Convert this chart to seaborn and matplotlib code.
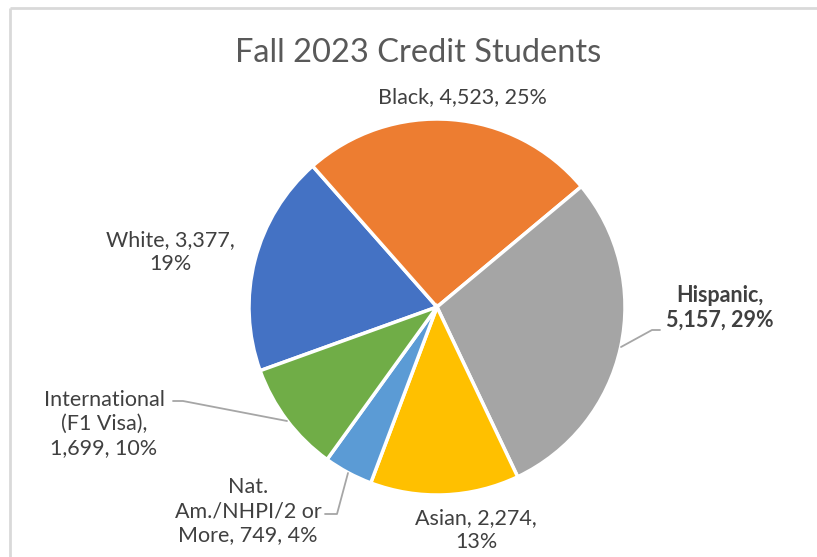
import matplotlib
matplotlib.use("Agg")
import matplotlib.pyplot as plt
import seaborn as sns

# Fall 2023 credit headcount by race/ethnicity
categories = ["White", "Black", "Hispanic", "Asian",
              "Nat. Am./NHPI/2 or More", "International (F1 Visa)"]
counts = [3377, 4523, 5157, 2274, 749, 1699]
# how each data label breaks across lines: name, count, percent
label_layouts = [
    "White, {n},\n{p}",
    "Black, {n}, {p}",
    "Hispanic,\n{n}, {p}",
    "Asian, {n},\n{p}",
    "Nat.\nAm./NHPI/2 or\nMore, {n}, {p}",
    "International\n(F1 Visa),\n{n}, {p}",
]
colors = ["#4472C4", "#ED7D31", "#A5A5A5", "#FFC000", "#5B9BD5", "#70AD47"]
title = "Fall 2023 Credit Students"

sns.set_theme(style="white")
plt.rcParams["font.family"] = ["Lato", "DejaVu Sans"]

W, H = 817, 557
fig = plt.figure(figsize=(W / 100, H / 100), dpi=100)
ax = fig.add_axes([0, 0, 1, 1])

def py(y):
    # pixel row (from top) to axis y
    return H - y

cx, cy, r = 437, 307, 188
ax.pie(counts, colors=colors, startangle=199.8, counterclock=False,
       center=(cx, py(cy)), radius=r,
       wedgeprops=dict(edgecolor="white", linewidth=2.5))
ax.set_xlim(0, W)
ax.set_ylim(0, H)
ax.set_aspect("equal")
ax.axis("off")

# chart frame (top and left edges visible)
frame = dict(color="#D9D9D9", linewidth=2, solid_capstyle="butt")
ax.plot([10, W], [py(8), py(8)], **frame)
ax.plot([10, 10], [py(8), 0], **frame)

ax.text(418, py(53), title, ha="center", va="center",
        fontsize=23.5, color="#595959")

total = sum(counts)
label_pos = [(170, 252), (462, 97), (720, 308), (476, 530),
             (248, 511), (104, 424)]
text_color = "#404040"
for name, v, fmt, (lx, ly) in zip(categories, counts, label_layouts, label_pos):
    txt = fmt.format(n=f"{v:,}", p=f"{round(v / total * 100)}%")
    bold = name == "Hispanic"
    ax.text(lx, py(ly), txt, ha="center", va="center", fontsize=15.5,
            color=text_color, linespacing=1.25,
            fontweight="bold" if bold else "normal")

# leader lines
lead = dict(color="#A6A6A6", linewidth=1.3)
ax.plot([621, 652, 660], [py(347), py(330), py(330)], **lead)
ax.plot([173, 183, 287], [py(401), py(401), py(421)], **lead)
ax.plot([325, 337, 348], [py(514), py(514), py(473)], **lead)

fig.savefig("out.png", dpi=100)
